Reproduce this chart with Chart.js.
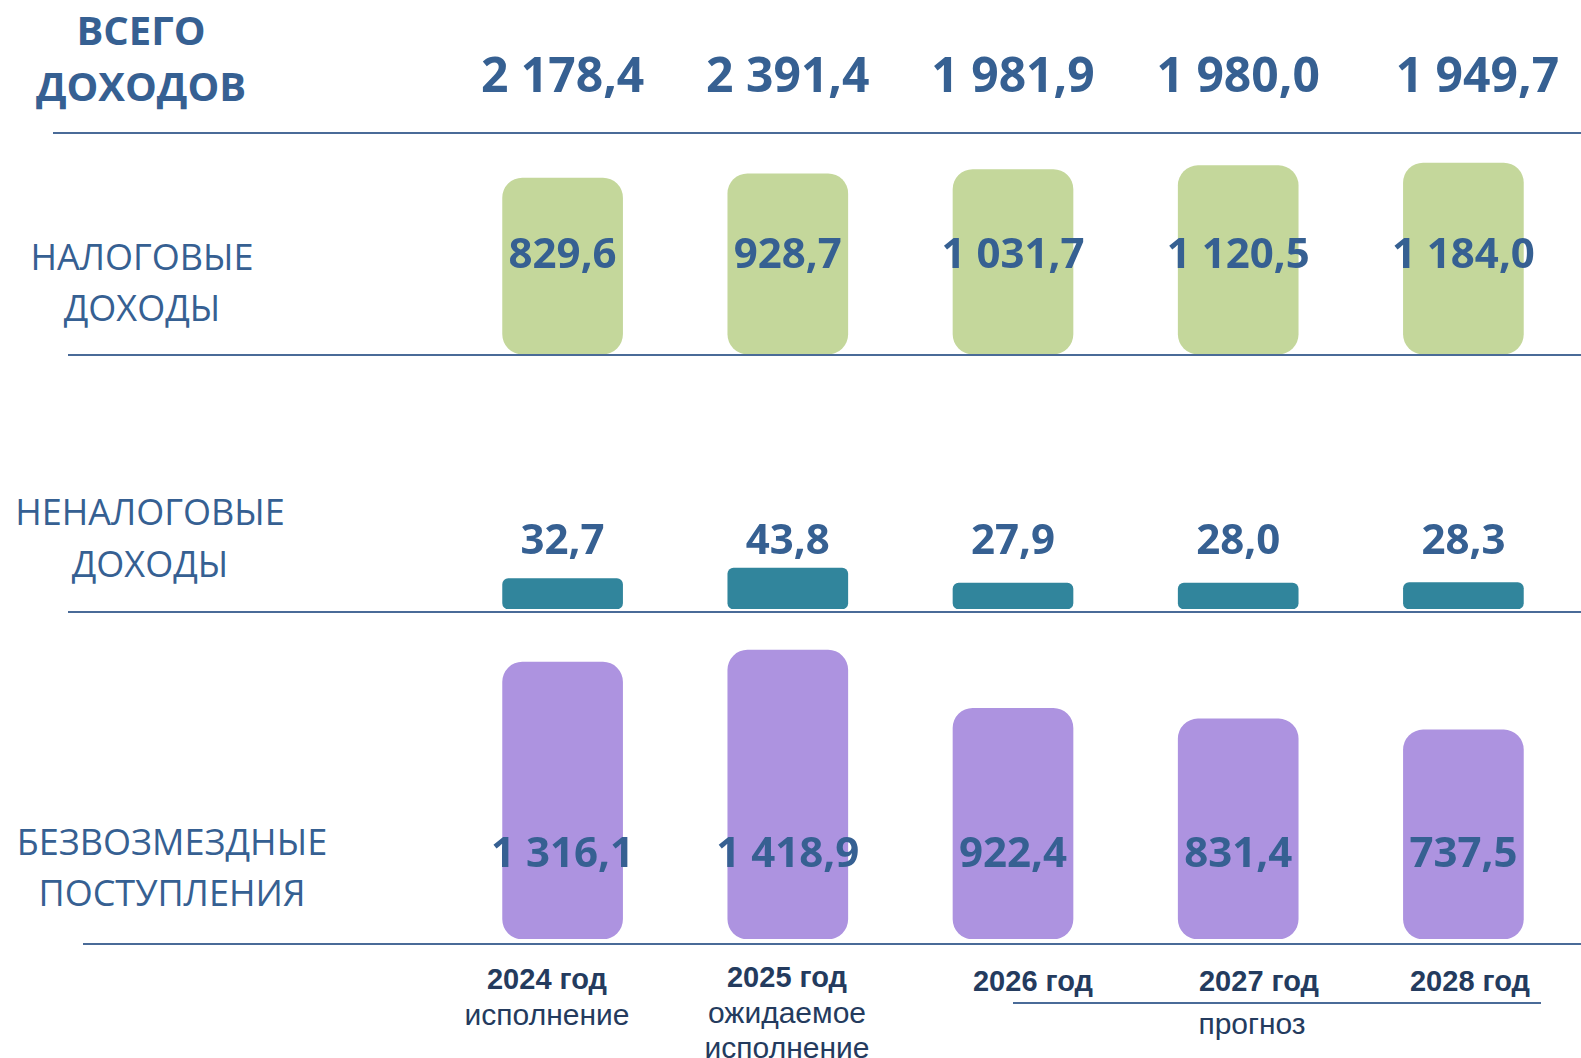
<!DOCTYPE html>
<html lang="ru">
<head>
<meta charset="utf-8">
<title>Доходы бюджета</title>
<script src="https://cdn.jsdelivr.net/npm/chart.js@4.4.1/dist/chart.umd.min.js"></script>
<style>
  html, body { margin: 0; padding: 0; background: #fff; }
  body { width: 1581px; height: 1058px; position: relative; overflow: hidden; }
  .box { position: absolute; }
  .lbl { position: absolute; transform: translate(-50%, -50%); white-space: nowrap; color: #366092; line-height: 1; }
  .ttl { font-family: 'Open Sans', sans-serif; font-size: 36px; }
  .ttl.b { font-weight: 700; font-size: 40px; }
  .yr { font-family: 'Liberation Sans', Arial, sans-serif; font-weight: 700; font-size: 29px; color: #243b5e; }
  .note { font-family: 'Liberation Sans', Arial, sans-serif; font-size: 30px; color: #243b5e; }
  .rule { position: absolute; height: 2px; background: #4a6b98; }
</style>
</head>
<body>

<div class="rule" style="left:53px; top:132px; width:1528px;"></div>
<div class="rule" style="left:68px; top:354px; width:1513px;"></div>
<div class="rule" style="left:68px; top:611px; width:1513px;"></div>
<div class="rule" style="left:83px; top:943px; width:1498px;"></div>
<div class="rule" style="left:1013px; top:1002px; width:528px;"></div>

<div class="box" style="left:450px; top:0px; width:1126px; height:354px;"><canvas id="rowTax"></canvas></div>
<div class="box" style="left:450px; top:500px; width:1126px; height:109px;"><canvas id="rowNonTax"></canvas></div>
<div class="box" style="left:450px; top:620px; width:1126px; height:319px;"><canvas id="rowFree"></canvas></div>

<script>
// данные, млн рублей
const years = ['2024 год', '2025 год', '2026 год', '2027 год', '2028 год'];
const yearNotes = [['исполнение'], ['ожидаемое', 'исполнение'], [], [], []];
const forecastNote = 'прогноз';
const totalIncome = [2178.4, 2391.4, 1981.9, 1980.0, 1949.7];
const taxIncome = [829.6, 928.7, 1031.7, 1120.5, 1184.0];
const nonTaxIncome = [32.7, 43.8, 27.9, 28.0, 28.3];
const freeTransfers = [1316.1, 1418.9, 922.4, 831.4, 737.5];
const rowTitles = [
  ['ВСЕГО', 'ДОХОДОВ'],
  ['НАЛОГОВЫЕ', 'ДОХОДЫ'],
  ['НЕНАЛОГОВЫЕ', 'ДОХОДЫ'],
  ['БЕЗВОЗМЕЗДНЫЕ', 'ПОСТУПЛЕНИЯ']
];

const BLUE = '#366092';
const fmtNum = v => {
  const [i, d] = v.toFixed(1).split('.');
  return i.replace(/\B(?=(\d{3})+(?!\d))/g, ' ') + ',' + d;
};

function addLabel(cls, text, x, y) {
  const el = document.createElement('div');
  el.className = 'lbl ' + cls;
  el.textContent = text;
  el.style.left = x + 'px';
  el.style.top = y + 'px';
  document.body.appendChild(el);
}

// подписи строк слева
const titlePos = [[141, [30, 86]], [142, [257, 308]], [150, [512, 564]], [172, [842, 893]]];
rowTitles.forEach((t, r) => {
  t.forEach((s, k) => addLabel(r === 0 ? 'ttl b' : 'ttl', s, titlePos[r][0], titlePos[r][1][k]));
});

// подписи годов снизу
const yearX = [547, 787, 1033, 1259, 1470];
const yearY = [979, 977, 981, 981, 981];
years.forEach((y, i) => {
  addLabel('yr', y, yearX[i], yearY[i]);
  yearNotes[i].forEach((n, k) => addLabel('note', n, yearX[i], yearY[i] + 36 + k * 35));
});
addLabel('note', forecastNote, 1252, 1024);

// подписи значений на столбцах
const valueLabels = {
  id: 'valueLabels',
  afterDatasetsDraw(chart, args, opts) {
    const { ctx, chartArea } = chart;
    const meta = chart.getDatasetMeta(0);
    ctx.save();
    ctx.fillStyle = BLUE;
    ctx.textAlign = 'center';
    ctx.textBaseline = 'middle';
    ctx.font = "bold 42px 'Open Sans'";
    meta.data.forEach((bar, i) => {
      const v = chart.data.datasets[0].data[i];
      ctx.fillText(fmtNum(v), bar.x, chartArea.top + opts.at + 2);
    });
    if (opts.totals) {
      ctx.font = "bold 48px 'Open Sans'";
      meta.data.forEach((bar, i) => ctx.fillText(fmtNum(opts.totals[i]), bar.x + (i === 4 ? 14 : 0), 78));
    }
    ctx.restore();
  }
};

function makeRow(id, data, color, radius, yMin, yMax, labelOpts) {
  return new Chart(document.getElementById(id), {
    type: 'bar',
    data: {
      labels: years,
      datasets: [{ data, base: yMin, backgroundColor: color, borderRadius: radius, borderSkipped: false, barThickness: 120 }]
    },
    options: {
      responsive: true,
      maintainAspectRatio: false,
      animation: false,
      layout: { padding: 0 },
      plugins: { legend: { display: false }, tooltip: { enabled: false }, valueLabels: labelOpts },
      scales: {
        x: { display: false },
        y: { display: false, min: yMin, max: yMax }
      }
    },
    plugins: [valueLabels]
  });
}

makeRow('rowTax', taxIncome, '#c4d79b', 20, -3328, 5035, { at: 254, totals: totalIncome });
makeRow('rowNonTax', nonTaxIncome, '#31859c', 6, 0.3, 116.3, { at: 40 });
makeRow('rowFree', freeTransfers, '#ad93e0', 20, -1047, 1676, { at: 233 });
</script>
</body>
</html>
